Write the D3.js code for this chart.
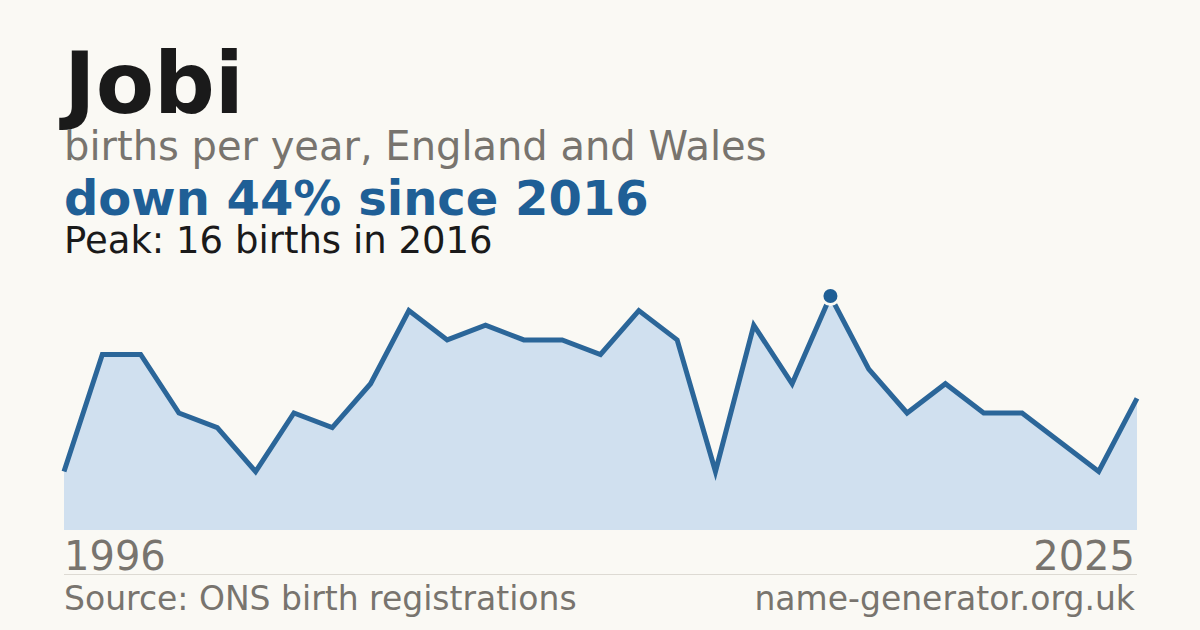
<!DOCTYPE html>
<html>
<head>
<meta charset="utf-8">
<script src="https://cdn.jsdelivr.net/npm/d3@7"></script>
<style>
  html, body { margin: 0; padding: 0; background: #faf9f4; }
  svg { display: block; font-family: "DejaVu Sans", sans-serif; }
</style>
</head>
<body>
<div id="chart"></div>
<script>
// Births per year (one year missing after 2016, plotted by position)
const years = [1996, 1997, 1998, 1999, 2000, 2001, 2002, 2003, 2004, 2005,
               2006, 2007, 2008, 2009, 2010, 2011, 2012, 2013, 2014, 2015,
               2016, 2017, 2018, 2019, 2020, 2022, 2023, 2024, 2025];
const births = [4, 12, 12, 8, 7, 4, 8, 7, 10, 15,
                13, 14, 13, 13, 12, 15, 13, 4, 14, 10,
                16, 11, 8, 10, 8, 8, 6, 4, 9];
const axisLabels = ["1996", "2025"];

const W = 1200, H = 630;
const left = 64, right = 1137;

const svg = d3.select("#chart")
    .append("svg")
    .attr("width", W)
    .attr("height", H);

svg.append("rect").attr("width", W).attr("height", H).attr("fill", "#faf9f4");

const data = years.map((y, i) => ({ year: y, value: births[i], i: i }));

const x = d3.scalePoint()
    .domain(data.map(d => d.i))
    .range([left, right]);

const y = d3.scaleLinear()
    .domain([0, 16])
    .range([530, 296]);

// area
const area = d3.area()
    .x(d => x(d.i))
    .y0(y(0))
    .y1(d => y(d.value));

svg.append("path")
    .datum(data)
    .attr("d", area)
    .attr("fill", "#d0e0ef");

const line = d3.line()
    .x(d => x(d.i))
    .y(d => y(d.value));

svg.append("path")
    .datum(data)
    .attr("d", line)
    .attr("fill", "none")
    .attr("stroke", "#2b6699")
    .attr("stroke-width", 5)
    .attr("stroke-linejoin", "miter");

// peak marker
const peak = data.reduce((a, b) => b.value > a.value ? b : a);
svg.append("circle")
    .attr("cx", x(peak.i))
    .attr("cy", y(peak.value))
    .attr("r", 10)
    .attr("fill", "#faf9f4");
svg.append("circle")
    .attr("cx", x(peak.i))
    .attr("cy", y(peak.value))
    .attr("r", 7)
    .attr("fill", "#1f5f96");

// titles
svg.append("text")
    .attr("x", 64).attr("y", 113)
    .attr("font-size", 85).attr("font-weight", "bold")
    .attr("fill", "#1a1a1a")
    .text("Jobi");

svg.append("text")
    .attr("x", 64).attr("y", 160)
    .attr("font-size", 40)
    .attr("fill", "#78746e")
    .text("births per year, England and Wales");

const last = data[data.length - 1];
const change = Math.round((1 - last.value / peak.value) * 100);
svg.append("text")
    .attr("x", 64).attr("y", 215)
    .attr("font-size", 48).attr("font-weight", "bold")
    .attr("fill", "#1f5f96")
    .text(`down ${change}% since ${peak.year}`);

svg.append("text")
    .attr("x", 64).attr("y", 253)
    .attr("font-size", 37)
    .attr("fill", "#1a1a1a")
    .text(`Peak: ${peak.value} births in ${peak.year}`);

// axis labels
svg.append("text")
    .attr("x", left).attr("y", 570)
    .attr("font-size", 40)
    .attr("fill", "#78746e")
    .text(axisLabels[0]);

svg.append("text")
    .attr("x", right - 2).attr("y", 570)
    .attr("text-anchor", "end")
    .attr("font-size", 40)
    .attr("fill", "#78746e")
    .text(axisLabels[1]);

// divider
svg.append("line")
    .attr("x1", left).attr("x2", right)
    .attr("y1", 574.5).attr("y2", 574.5)
    .attr("stroke", "#dddad3")
    .attr("stroke-width", 1);

// footer
svg.append("text")
    .attr("x", 64).attr("y", 610)
    .attr("font-size", 33)
    .attr("fill", "#78746e")
    .text("Source: ONS birth registrations");

svg.append("text")
    .attr("x", right - 2).attr("y", 610)
    .attr("text-anchor", "end")
    .attr("font-size", 33)
    .attr("fill", "#78746e")
    .text("name-generator.org.uk");
</script>
</body>
</html>
